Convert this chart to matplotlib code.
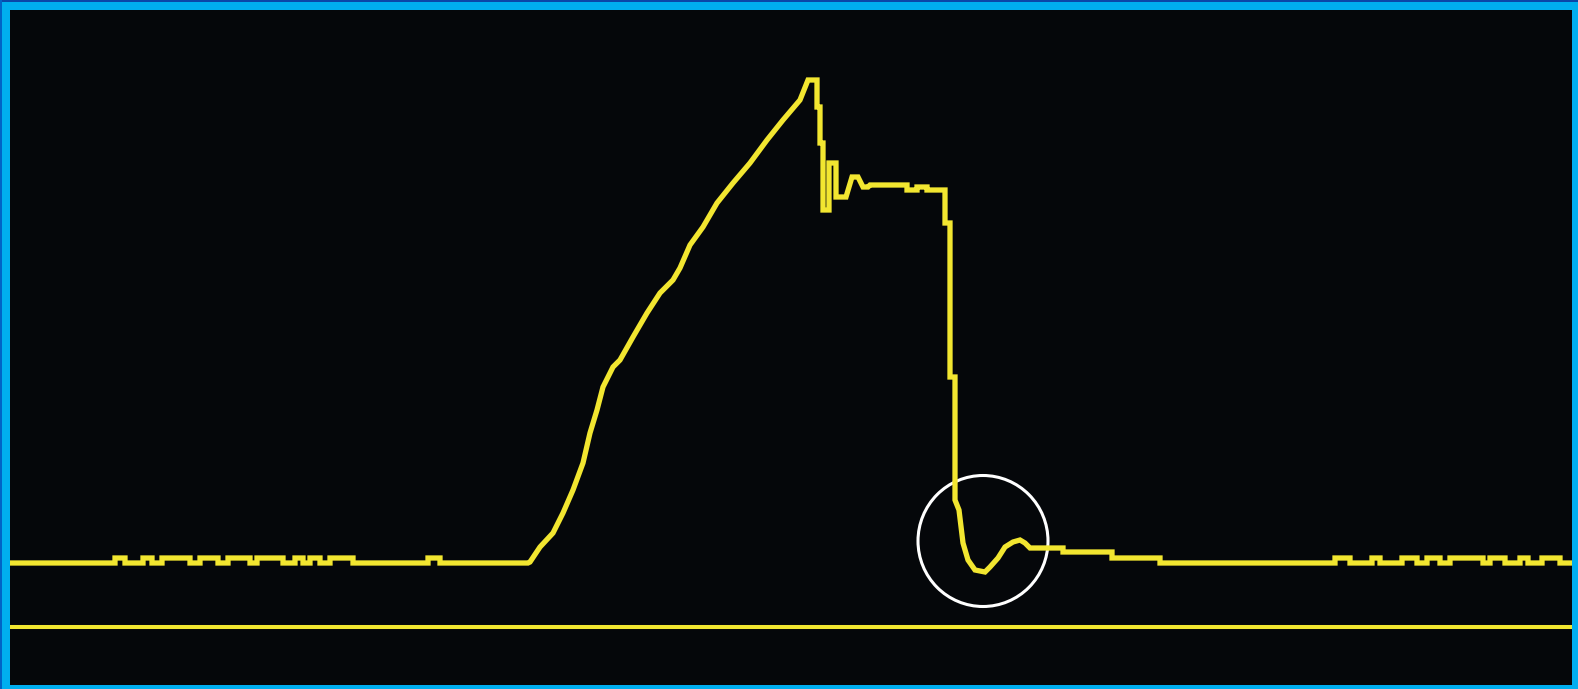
import matplotlib
matplotlib.use("Agg")
import matplotlib.pyplot as plt
from matplotlib.patches import Ellipse, Rectangle

# Captured pulse, time in microseconds, amplitude in volts
BASE_V = 0.64          # idle level of the channel
LSB_V = 0.05           # one quantisation step of the digitiser
REF_V = 0.00           # reference (ground) trace
T_END = 156.2

# Intervals (start, end) in which the idle level sits one step higher
noise_left_hi = [(10.5, 11.5), (13.3, 14.2), (15.2, 18.0), (19.0, 20.8),
                 (21.8, 24.0), (24.7, 27.3), (28.5, 29.3), (30.0, 31.0),
                 (32.0, 34.3), (41.8, 43.0)]
noise_right_hi = [(132.5, 134.0), (136.2, 137.0), (139.2, 140.7),
                  (141.7, 143.0), (144.0, 147.3), (148.0, 149.5),
                  (151.0, 151.8), (153.2, 155.0)]
RISE_START = 51.8
TAIL_START = 115.1

# Leading edge up to the overshoot peak
rise_t = [51.8, 52.0, 53.0, 54.3, 55.3, 56.3, 57.3, 58.0, 58.7, 59.3, 60.3,
          61.0, 62.3, 63.7, 65.0, 66.3, 67.0, 68.0, 69.3, 70.7, 72.3, 74.0,
          75.7, 77.3, 79.0, 79.8, 80.5]
rise_v = [0.64, 0.65, 0.80, 0.94, 1.14, 1.37, 1.64, 1.94, 2.17, 2.40, 2.60,
          2.67, 2.90, 3.14, 3.34, 3.47, 3.59, 3.82, 4.00, 4.24, 4.44, 4.64,
          4.87, 5.07, 5.27, 5.47, 5.47]

# Ringing, flat top, falling edge and undershoot
fall_t = [80.5, 80.7, 80.7, 81.0, 81.0, 81.3, 81.3, 81.9, 81.9, 82.2, 82.6,
          82.6, 83.0, 83.6, 84.2, 84.8, 85.3, 85.8, 86.0, 89.7, 89.7, 90.7,
          90.7, 91.7, 91.7, 93.5, 93.5, 94.0, 94.0, 94.5, 94.5, 94.9, 95.3,
          95.8, 96.5, 97.5, 98.0, 98.8, 99.5, 100.3, 101.0, 101.5, 102.0,
          105.3, 105.3, 110.2, 110.2, 115.0, 115.0]
fall_v = [5.47, 5.47, 5.20, 5.20, 4.84, 4.84, 4.17, 4.17, 4.64, 4.64, 4.64,
          4.30, 4.30, 4.30, 4.50, 4.50, 4.40, 4.40, 4.42, 4.42, 4.37, 4.37,
          4.40, 4.40, 4.37, 4.37, 4.04, 4.04, 2.50, 2.50, 1.27, 1.17, 0.84,
          0.67, 0.57, 0.55, 0.60, 0.69, 0.80, 0.85, 0.87, 0.84, 0.79,
          0.79, 0.75, 0.75, 0.69, 0.69, 0.64]

# Marker around the undershoot
mark_t, mark_v = 97.3, 0.86
mark_rt, mark_rv = 6.5, 0.655

Y_MIN, Y_MAX = -0.58, 6.17


def idle_segment(t0, t1, hi_intervals):
    ts, vs = [t0], [BASE_V]
    for a, b in hi_intervals:
        ts += [a, a, b, b]
        vs += [BASE_V, BASE_V + LSB_V, BASE_V + LSB_V, BASE_V]
    ts.append(t1)
    vs.append(BASE_V)
    return ts, vs


lt, lv = idle_segment(0.0, RISE_START, noise_left_hi)
rt, rv = idle_segment(TAIL_START, T_END, noise_right_hi)
trace_t = lt + rise_t + fall_t + rt
trace_v = lv + rise_v + fall_v + rv

W, H = 1578, 689
fig = plt.figure(figsize=(W / 100, H / 100), dpi=100)
fig.patch.set_facecolor("#00aeef")
# darker outer rim along the top and left edges
fig.patches.append(Rectangle((0, 1 - 2 / H), 1, 2 / H, transform=fig.transFigure,
                             facecolor="#0a47a8", edgecolor="none"))
fig.patches.append(Rectangle((0, 0), 2 / W, 1, transform=fig.transFigure,
                             facecolor="#0063c6", edgecolor="none"))

ax = fig.add_axes([10 / W, 4 / H, 1562 / W, 675 / H])
ax.set_facecolor("#05070a")
ax.set_xlim(0, T_END)
ax.set_ylim(Y_MIN, Y_MAX)
ax.set_xticks([])
ax.set_yticks([])
for sp in ax.spines.values():
    sp.set_visible(False)

yellow = "#f2e630"
ax.axhline(REF_V, color=yellow, lw=2.9, solid_capstyle="butt")
ax.plot(trace_t, trace_v, color=yellow, lw=3.8,
        solid_joinstyle="miter", solid_capstyle="butt")
ax.add_patch(Ellipse((mark_t, mark_v), 2 * mark_rt, 2 * mark_rv,
                     fill=False, edgecolor="white", lw=2.2))

fig.savefig("out.png", dpi=100, facecolor=fig.get_facecolor())
